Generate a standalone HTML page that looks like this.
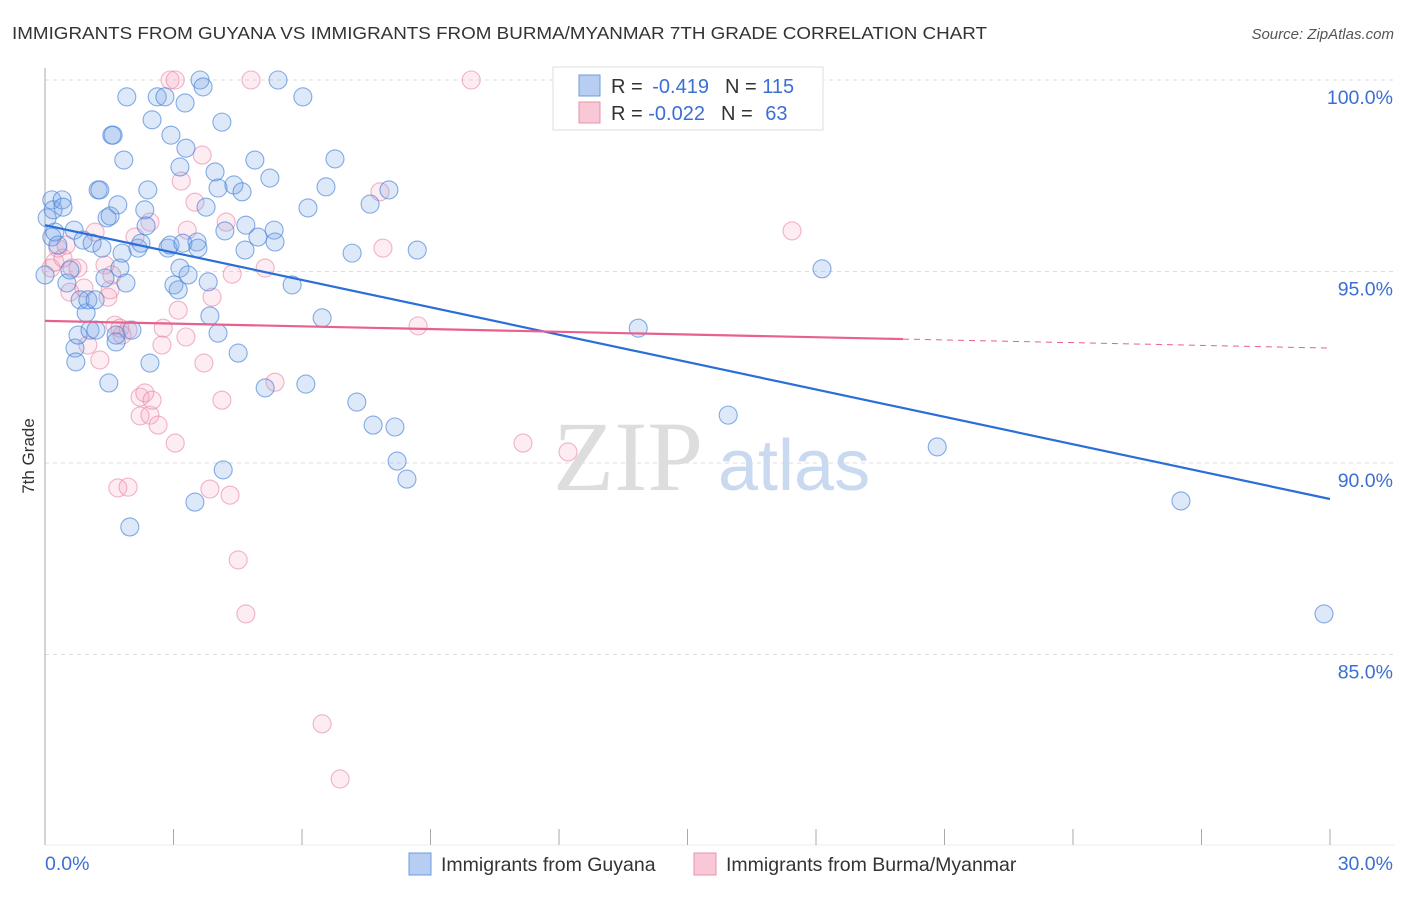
<!DOCTYPE html>
<html><head><meta charset="utf-8"><style>
body{margin:0;background:#fff;font-family:"Liberation Sans",sans-serif}
svg text{font-family:"Liberation Sans",sans-serif}
</style></head><body>
<svg id="chart" width="1406" height="892" viewBox="0 0 1406 892" xmlns="http://www.w3.org/2000/svg">
<text x="12" y="39" font-size="17.5" fill="#333" textLength="975" lengthAdjust="spacingAndGlyphs">IMMIGRANTS FROM GUYANA VS IMMIGRANTS FROM BURMA/MYANMAR 7TH GRADE CORRELATION CHART</text>
<text x="1394" y="39" font-size="15" fill="#555" font-style="italic" text-anchor="end">Source: ZipAtlas.com</text>
<g id="grid"></g>
<g>
<text x="553" y="490" font-size="100" fill="#ddd" style="font-family:'Liberation Serif',serif">ZIP</text>
<text x="718" y="490" font-size="72" fill="#c9d9f0">atlas</text>
</g>
<line x1="45" y1="68" x2="45" y2="845" stroke="#aaa"/>
<text x="34" y="456" font-size="17" fill="#333" text-anchor="middle" transform="rotate(-90 34 456)">7th Grade</text>
<g id="xticks"></g>
<g id="yticks"></g>
<g id="pts-pink"></g>
<g id="pts-blue"></g>
<g id="lines"></g>
<g>
<rect x="553" y="67" width="270" height="63" fill="#fff" stroke="#ddd"/>
<rect x="579" y="75" width="21" height="21" fill="#b7cdf2" stroke="#6f9be0"/>
<rect x="579" y="102" width="21" height="21" fill="#f9c8d6" stroke="#e890ac"/>
<text x="611" y="93" font-size="20" fill="#333">R = <tspan fill="#3b6fd4" dx="4">-0.419</tspan><tspan dx="16" fill="#333">N = </tspan><tspan fill="#3b6fd4">115</tspan></text>
<text x="611" y="120" font-size="20" fill="#333">R = <tspan fill="#3b6fd4">-0.022</tspan><tspan dx="16" fill="#333">N = </tspan><tspan fill="#3b6fd4" dx="7">63</tspan></text>
</g>
<g>
<rect x="409" y="853" width="22" height="22" fill="#b7cdf2" stroke="#6f9be0"/>
<text x="441" y="871" font-size="19.5" fill="#333">Immigrants from Guyana</text>
<rect x="694" y="853" width="22" height="22" fill="#f9c8d6" stroke="#e890ac"/>
<text x="726" y="871" font-size="19.5" fill="#333">Immigrants from Burma/Myanmar</text>
</g>
</svg>
<script>
const blueX=[0.16,0.19,0.16,0.23,0.30,0.40,0.42,0.51,0.58,0.68,0.70,0.72,0.77,0.82,0.89,0.96,1.00,1.05,1.10,1.17,1.19,1.24,1.28,1.33,1.40,1.45,1.49,1.52,1.56,1.59,1.66,1.66,1.70,1.75,1.80,1.84,1.89,1.91,1.98,2.03,2.17,2.24,2.33,2.36,2.40,2.45,2.50,2.62,2.80,2.87,2.92,2.94,3.01,3.11,3.15,3.15,3.22,3.27,3.29,3.34,3.50,3.55,3.57,3.62,3.69,3.76,3.81,3.85,3.97,4.04,4.04,4.13,4.16,4.20,4.41,4.51,4.60,4.67,4.69,4.90,4.97,5.14,5.25,5.35,5.37,5.44,5.77,6.02,6.09,6.14,6.47,6.56,6.77,7.17,7.28,7.59,7.66,8.03,8.17,8.22,8.45,8.69,13.85,15.95,18.14,20.83,26.52,29.86,0.0,0.05];
const blueY=[96.87,96.61,95.90,96.03,95.69,96.87,96.68,94.70,95.04,96.08,93.00,92.64,93.34,94.26,95.82,93.92,94.26,93.47,95.74,94.26,93.47,97.13,97.13,95.61,94.83,96.40,92.09,96.45,98.56,98.56,93.34,93.16,96.74,95.09,95.48,97.91,94.70,99.56,88.33,93.47,95.61,95.74,96.61,96.19,97.13,92.61,98.96,99.56,99.56,95.61,95.69,98.56,94.65,94.52,95.09,97.73,95.74,99.40,98.22,94.91,88.98,95.77,95.61,100.0,99.82,96.68,94.73,93.84,97.60,93.39,97.18,98.90,89.82,96.06,97.26,92.87,97.08,95.56,96.21,97.91,95.90,91.96,97.44,96.08,95.77,100.0,94.65,99.56,92.06,96.66,93.79,97.21,97.94,95.48,91.59,96.76,90.99,97.13,90.94,90.05,89.58,95.56,93.52,91.25,95.07,90.42,89.01,86.06,94.91,96.40];
const pinkX=[0.14,0.23,0.30,0.42,0.49,0.58,0.63,0.77,0.91,1.00,1.17,1.28,1.40,1.47,1.52,1.56,1.63,1.75,1.80,1.70,1.94,1.94,2.10,2.22,2.22,2.33,2.45,2.45,2.50,2.64,2.73,2.76,2.92,3.04,3.04,3.11,3.18,3.29,3.32,3.50,3.67,3.71,3.85,3.90,4.13,4.23,4.32,4.37,4.51,4.69,4.81,5.14,5.37,6.47,6.89,7.82,7.89,8.71,9.95,11.16,12.21,17.44];
const pinkY=[95.09,95.25,95.61,95.35,95.69,94.46,95.09,95.09,94.57,93.08,96.03,92.69,95.17,94.33,94.52,94.91,93.60,93.52,93.34,89.35,89.37,93.47,95.90,91.72,91.23,91.83,96.29,91.25,91.64,90.99,93.08,93.52,100.0,100.0,90.52,93.99,97.36,93.29,96.08,96.81,98.04,92.61,89.32,94.33,91.64,96.29,89.16,94.93,87.47,86.06,100.0,95.09,92.11,83.19,81.75,97.08,95.61,93.58,100.0,90.52,90.29,96.06];
const blueTrend=[96.21,89.06];
const pinkTrend=[93.71,93.00];
const pinkSolidEnd=20.03;
const yTickVals=[100,95,90,85];
const yTickLabels=["100.0%","95.0%","90.0%","85.0%"];
const xTickVals=[0,3,6,9,12,15,18,21,24,27,30];
const xLabels=["0.0%","30.0%"];

const NS="http://www.w3.org/2000/svg";
const xs=v=>45+v*(1285/30);
const ys=v=>80+(100-v)*38.3;
function mk(tag,attrs,parent){const e=document.createElementNS(NS,tag);for(const k in attrs)e.setAttribute(k,attrs[k]);parent.appendChild(e);return e;}
const grid=document.getElementById('grid');
const yt=document.getElementById('yticks');
yTickVals.forEach((v,i)=>{
  const l=mk('line',{x1:45,x2:1394,y1:ys(v),y2:ys(v),stroke:'#ddd','stroke-dasharray':'4,4'},grid);
  
  
  const t=mk('text',{x:1393,y:ys(v)+24,'font-size':19.5,fill:'#3b6fd4','text-anchor':'end'},yt);
  t.textContent=yTickLabels[i];
  
  
});
const xt=document.getElementById('xticks');
mk('line',{x1:45,x2:1394,y1:845,y2:845,stroke:'#eee'},xt);
xTickVals.forEach(v=>{
  const l=mk('line',{x1:xs(v),x2:xs(v),y1:829,y2:845,stroke:'#aaa'},xt);
  
  
});
const t0=mk('text',{x:45,y:870,'font-size':19.5,fill:'#3b6fd4'},xt);t0.textContent=xLabels[0];


const t1=mk('text',{x:1393,y:870,'font-size':19.5,fill:'#3b6fd4','text-anchor':'end'},xt);t1.textContent=xLabels[1];



const pp=document.getElementById('pts-pink');
pinkX.forEach((x,i)=>{
  const c=mk('circle',{cx:xs(x),cy:ys(pinkY[i]),r:9,fill:'rgba(244,160,190,0.2)',stroke:'rgba(232,130,165,0.6)','stroke-width':1.1},pp);
  
  
});
const bp=document.getElementById('pts-blue');
blueX.forEach((x,i)=>{
  const c=mk('circle',{cx:xs(x),cy:ys(blueY[i]),r:9,fill:'rgba(120,165,230,0.25)',stroke:'rgba(70,130,215,0.65)','stroke-width':1.1},bp);
  
  
});
const lg=document.getElementById('lines');
const bl=mk('line',{x1:xs(0),y1:ys(blueTrend[0]),x2:xs(30),y2:ys(blueTrend[1]),stroke:'#2a6fd8','stroke-width':2.2},lg);


const pAt=x=>pinkTrend[0]+(pinkTrend[1]-pinkTrend[0])*x/30;
const pl=mk('line',{x1:xs(0),y1:ys(pAt(0)),x2:xs(pinkSolidEnd),y2:ys(pAt(pinkSolidEnd)),stroke:'#e8608e','stroke-width':2.2},lg);


const pd=mk('line',{x1:xs(pinkSolidEnd),y1:ys(pAt(pinkSolidEnd)),x2:xs(30),y2:ys(pAt(30)),stroke:'#e8608e','stroke-width':1,'stroke-dasharray':'6,5'},lg);


</script>
</body></html>
